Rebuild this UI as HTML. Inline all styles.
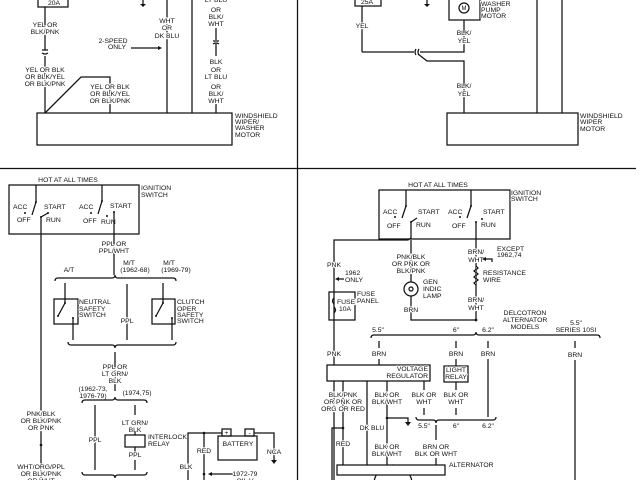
<!DOCTYPE html>
<html><head><meta charset="utf-8"><style>
html,body{margin:0;padding:0;background:#fff;}
svg{display:block}
text{font-family:"Liberation Sans",sans-serif;font-size:6.8px;fill:#111;stroke:#fff;stroke-width:2.2px;paint-order:stroke;stroke-linejoin:round}
.c{text-anchor:middle}
.r{text-anchor:end}
line,polyline,path,rect,circle{stroke:#111;stroke-width:1.25;fill:none}
.d{fill:#111;stroke:none}
</style></head><body>
<svg width="640" height="480" viewBox="0 0 640 480" xmlns="http://www.w3.org/2000/svg">
<line x1="0" y1="168.5" x2="636" y2="168.5" stroke-width="1.6"/>
<line x1="297.5" y1="0" x2="297.5" y2="480"/>

<!-- TOP LEFT -->
<rect x="38" y="-2" width="30" height="9"/>
<text x="48" y="5">20A</text>
<line x1="45" y1="7" x2="45" y2="50"/><line x1="45" y1="56" x2="45" y2="113"/>
<path d="M42,50 L48,50 M42,53 Q45,55 48,53"/>
<text class="c" x="45" y="27">YEL OR</text><text class="c" x="45" y="34">BLK/PNK</text>
<text class="c" x="45" y="72">YEL OR BLK</text><text class="c" x="45" y="79">OR BLK/YEL</text><text class="c" x="45" y="86">OR BLK/PNK</text>
<polyline points="45,113 81,77 110,77 110,113"/>
<text class="c" x="110" y="89">YEL OR BLK</text><text class="c" x="110" y="96">OR BLK/YEL</text><text class="c" x="110" y="103">OR BLK/PNK</text>
<line x1="143" y1="0" x2="143" y2="4"/><path class="d" d="M140,4 L146,4 L143,7 Z"/>
<line x1="167" y1="0" x2="167" y2="113"/>
<text class="c" x="167" y="23">WHT</text><text class="c" x="167" y="30">OR</text><text class="c" x="167" y="38">DK BLU</text>
<text class="c" x="113" y="43">2-SPEED</text><text class="c" x="117" y="49">ONLY</text>
<line x1="131" y1="48" x2="161" y2="48"/><path class="d" d="M162,48 L158,46 L158,50 Z"/>
<line x1="192" y1="0" x2="192" y2="113"/>
<line x1="216" y1="28" x2="216" y2="40"/><path d="M213,41 L219,41 M213,44 Q216,42 219,44"/><line x1="216" y1="44" x2="216" y2="56"/>
<line x1="216" y1="104" x2="216" y2="113"/>
<text class="c" x="216" y="2">LT BLU</text><text class="c" x="216" y="12">OR</text><text class="c" x="216" y="19">BLK/</text><text class="c" x="216" y="26">WHT</text>
<text class="c" x="216" y="64">BLK</text><text class="c" x="216" y="72">OR</text><text class="c" x="216" y="79">LT BLU</text>
<text class="c" x="216" y="89">OR</text><text class="c" x="216" y="96">BLK/</text><text class="c" x="216" y="103">WHT</text>
<rect x="37" y="113" width="195" height="32"/>
<text x="235" y="118">WINDSHIELD</text><text x="235" y="124">WIPER/</text><text x="235" y="130">WASHER</text><text x="235" y="137">MOTOR</text>

<!-- TOP RIGHT -->
<rect x="355" y="-2" width="26" height="8"/>
<text x="361" y="4">25A</text>
<line x1="362" y1="6" x2="362" y2="52"/>
<text class="c" x="362" y="28">YEL</text>
<polyline points="362,52 414,52"/>
<path d="M416,49 Q414,52 416,55 M419,49 Q417,52 419,55"/>
<polyline points="420,52 464,52 464,20"/>
<polyline points="418,54 427,61 464,61 464,113"/>
<text class="c" x="464" y="35">BLK/</text><text class="c" x="464" y="43">YEL</text>
<text class="c" x="464" y="88">BLK/</text><text class="c" x="464" y="96">YEL</text>
<line x1="427" y1="0" x2="427" y2="4"/><path class="d" d="M424,4 L430,4 L427,7 Z"/>
<rect x="449" y="-2" width="31" height="22"/>
<circle cx="464" cy="8" r="5"/><text class="c" x="464" y="10" style="font-size:6px">M</text>
<text x="481" y="6">WASHER</text><text x="481" y="12">PUMP</text><text x="481" y="18">MOTOR</text>
<line x1="537" y1="0" x2="537" y2="113"/><line x1="562" y1="0" x2="562" y2="113"/>
<rect x="447" y="113" width="131" height="32"/>
<text x="580" y="118">WINDSHIELD</text><text x="580" y="124">WIPER</text><text x="580" y="131">MOTOR</text>

<!-- BOTTOM LEFT -->
<text class="c" x="68" y="182">HOT AT ALL TIMES</text>
<rect x="9" y="185" width="130" height="49"/>
<text x="141" y="190">IGNITION</text><text x="141" y="197">SWITCH</text>
<line x1="36" y1="185" x2="36" y2="202"/><line x1="36" y1="202" x2="32" y2="215"/>
<circle class="d" cx="36" cy="202" r="1"/><circle class="d" cx="25" cy="213" r="1"/>
<text x="13" y="209">ACC</text><text x="17" y="222">OFF</text><text x="44" y="209">START</text><text x="46" y="222">RUN</text>
<line x1="41" y1="217" x2="48" y2="213"/><circle class="d" cx="41" cy="217" r="1"/><circle class="d" cx="48" cy="213" r="1"/>
<line x1="41" y1="217" x2="41" y2="480"/>
<line x1="102" y1="185" x2="102" y2="201"/><line x1="102" y1="201" x2="98" y2="214"/>
<circle class="d" cx="102" cy="201" r="1"/><circle class="d" cx="91" cy="213" r="1"/><circle class="d" cx="107" cy="216" r="1"/>
<text x="79" y="209">ACC</text><text x="83" y="223">OFF</text><text x="110" y="208">START</text><text x="101" y="224">RUN</text>
<circle class="d" cx="114" cy="212" r="1"/>
<line x1="114" y1="212" x2="114" y2="275"/>
<text class="c" x="114" y="246">PPL OR</text><text class="c" x="114" y="253">PPL/WHT</text>
<text class="c" x="69" y="272">A/T</text>
<text class="c" x="129" y="265">M/T</text><text class="c" x="135" y="272">(1962-68)</text>
<text class="c" x="169" y="265">M/T</text><text class="c" x="176" y="272">(1969-79)</text>
<path d="M55,281 Q55,278 58,278 L112,278 Q115,278 115,275 Q115,278 118,278 L173,278 Q176,278 176,281"/>
<rect x="54" y="299" width="24" height="25"/>
<polyline points="65,283 65,303 58,316"/><circle class="d" cx="65" cy="303" r="1"/><circle class="d" cx="58" cy="316" r="1"/>
<circle class="d" cx="73" cy="318" r="1"/><line x1="73" y1="318" x2="73" y2="340"/>
<text x="79" y="304">NEUTRAL</text><text x="79" y="311">SAFETY</text><text x="79" y="317">SWITCH</text>
<line x1="127" y1="284" x2="127" y2="340"/><text class="c" x="127" y="323">PPL</text>
<rect x="152" y="299" width="23" height="25"/>
<polyline points="163,283 163,303 156,316"/><circle class="d" cx="163" cy="303" r="1"/><circle class="d" cx="156" cy="316" r="1"/>
<circle class="d" cx="172" cy="318" r="1"/><line x1="172" y1="318" x2="172" y2="340"/>
<text x="177" y="304">CLUTCH</text><text x="177" y="311">OPER</text><text x="177" y="317">SAFETY</text><text x="177" y="323">SWITCH</text>
<path d="M68,342 Q68,345 71,345 L112,345 Q115,345 115,348 Q115,345 118,345 L173,345 Q176,345 176,342"/>
<line x1="115" y1="352" x2="115" y2="391"/>
<text class="c" x="115" y="369">PPL OR</text><text class="c" x="115" y="376">LT GRN/</text><text class="c" x="115" y="383">BLK</text>
<text class="c" x="93" y="391">(1962-73,</text><text class="c" x="93" y="398">1976-79)</text><text class="c" x="137" y="395">(1974,75)</text>
<path d="M82,403 Q82,400 85,400 L112,400 Q115,400 115,397 Q115,400 118,400 L144,400 Q147,400 147,403"/>
<line x1="95" y1="405" x2="95" y2="470"/><text class="c" x="95" y="442">PPL</text>
<line x1="135" y1="405" x2="135" y2="415"/>
<text class="c" x="135" y="425">LT GRN/</text><text class="c" x="135" y="432">BLK</text>
<line x1="135" y1="432" x2="135" y2="435"/>
<rect x="125" y="435" width="20" height="12"/>
<text x="148" y="439">INTERLOCK</text><text x="148" y="446">RELAY</text>
<line x1="135" y1="447" x2="135" y2="452"/><text class="c" x="135" y="457">PPL</text><line x1="135" y1="460" x2="135" y2="470"/>
<path d="M82,472 Q82,475 85,475 L112,475 Q115,475 115,478 Q115,475 118,475 L144,475 Q147,475 147,472"/>
<text class="c" x="41" y="416">PNK/BLK</text><text class="c" x="41" y="423">OR BLK/PNK</text><text class="c" x="41" y="430">OR PNK</text>
<circle class="d" cx="41" cy="445" r="1.3"/>
<text class="c" x="41" y="469">WHT/ORG/PPL</text><text class="c" x="41" y="476">OR BLK/PNK</text><text class="c" x="41" y="483">OR WHT</text>
<polyline points="188,480 188,433 222,433"/>
<line x1="204" y1="433" x2="204" y2="480"/><circle class="d" cx="204" cy="433" r="1.3"/><circle class="d" cx="204" cy="474" r="1.3"/>
<rect x="222" y="429" width="9" height="7"/><text class="c" x="226.5" y="435">+</text>
<rect x="245" y="429" width="9" height="7"/><text class="c" x="249.5" y="435">-</text>
<rect x="218" y="436" width="39" height="24"/><text class="c" x="238" y="446">BATTERY</text>
<polyline points="254,433 274,433 274,460"/>
<path class="d" d="M271,460 L277,460 L274,464 Z"/>
<text class="c" x="274" y="454">NCA</text>
<text class="c" x="204" y="453">RED</text><text class="c" x="186" y="469">BLK</text>
<line x1="210" y1="474" x2="234" y2="474"/><path class="d" d="M208,474 L212,472 L212,476 Z"/>
<text class="c" x="245" y="476">1972-79</text><text class="c" x="245" y="483">OIL V</text>

<!-- BOTTOM RIGHT -->
<text class="c" x="438" y="187">HOT AT ALL TIMES</text>
<rect x="379" y="190" width="131" height="49"/>
<text x="511" y="195">IGNITION</text><text x="511" y="201">SWITCH</text>
<line x1="406" y1="190" x2="406" y2="206"/><line x1="406" y1="206" x2="402" y2="218"/>
<circle class="d" cx="406" cy="206" r="1"/><circle class="d" cx="395" cy="217" r="1"/>
<text x="383" y="214">ACC</text><text x="387" y="228">OFF</text><text x="418" y="214">START</text><text x="416" y="227">RUN</text>
<line x1="411" y1="222" x2="417" y2="218"/><circle class="d" cx="411" cy="222" r="1"/>
<line x1="471" y1="190" x2="471" y2="206"/><line x1="471" y1="206" x2="467" y2="218"/>
<circle class="d" cx="471" cy="206" r="1"/><circle class="d" cx="460" cy="217" r="1"/><circle class="d" cx="482" cy="219" r="1"/>
<text x="448" y="214">ACC</text><text x="452" y="228">OFF</text><text x="483" y="214">START</text><text x="481" y="227">RUN</text>
<circle class="d" cx="476" cy="222" r="1"/>
<polyline points="411,222 411,238 408,240 334,240 334,480"/>
<line x1="411" y1="240" x2="411" y2="282"/>
<text class="c" x="411" y="259">PNK/BLK</text><text class="c" x="411" y="266">OR PNK OR</text><text class="c" x="411" y="273">BLK/PNK</text>
<circle cx="411" cy="289" r="7" style="fill:#fff"/><circle cx="411" cy="289" r="2"/>
<text x="423" y="284">GEN</text><text x="423" y="291">INDIC</text><text x="423" y="298">LAMP</text>
<polyline points="411,296 411,320 476,320"/>
<text class="c" x="411" y="312">BRN</text>
<line x1="476" y1="222" x2="476" y2="320"/><circle class="d" cx="476" cy="320" r="1.4"/>
<text class="c" x="476" y="254">BRN/</text><text class="c" x="476" y="262">WHT</text>
<text x="497" y="251">EXCEPT</text><text x="497" y="257">1962,74</text>
<polyline points="486,259 492,259 492,262"/><path class="d" d="M482,259 L486,257 L486,261 Z"/>
<path d="M476,266 L478,268 L474,271 L478,274 L474,277 L478,280 L474,283 L476,285" style="fill:#fff"/>
<text x="483" y="275">RESISTANCE</text><text x="483" y="282">WIRE</text>
<text class="c" x="476" y="302">BRN/</text><text class="c" x="476" y="310">WHT</text>
<text class="c" x="525" y="315">DELCOTRON</text><text class="c" x="525" y="322">ALTERNATOR</text><text class="c" x="525" y="329">MODELS</text>
<text class="c" x="576" y="325">5.5"</text><text class="c" x="576" y="332">SERIES 10SI</text>
<text class="c" x="378" y="332">5.5"</text><text class="c" x="456" y="332">6"</text><text class="c" x="488" y="332">6.2"</text>
<path d="M371,338 Q371,335 374,335 L473,335 Q476,335 476,332 Q476,335 479,335 L597,335 Q600,335 600,338"/>
<text class="c" x="334" y="267">PNK</text>
<text x="345" y="275">1962</text><text x="345" y="282">ONLY</text>
<line x1="338" y1="279" x2="344" y2="279"/><path class="d" d="M335,279 L339,277 L339,281 Z"/>
<rect x="329" y="292" width="26" height="28"/>
<path d="M334,298 Q331,301 334,304 M334,307 Q337,310 334,313" />
<text x="337" y="304">FUSE</text><text x="339" y="311">10A</text>
<text x="357" y="296">FUSE</text><text x="357" y="303">PANEL</text>
<text class="c" x="334" y="356">PNK</text>
<line x1="379" y1="341" x2="379" y2="348"/><text class="c" x="379" y="356">BRN</text><line x1="379" y1="359" x2="379" y2="365"/>
<line x1="456" y1="341" x2="456" y2="348"/><text class="c" x="456" y="356">BRN</text><line x1="456" y1="359" x2="456" y2="366"/>
<line x1="488" y1="341" x2="488" y2="348"/><text class="c" x="488" y="356">BRN</text><line x1="488" y1="359" x2="488" y2="417"/>
<line x1="575" y1="341" x2="575" y2="348"/><text class="c" x="575" y="357">BRN</text><line x1="575" y1="360" x2="575" y2="480"/>
<rect x="327" y="365" width="103" height="16" style="fill:#fff"/>
<text class="r" x="428" y="371">VOLTAGE</text><text class="r" x="428" y="378">REGULATOR</text>
<rect x="444" y="366" width="24" height="16"/>
<text class="c" x="456" y="372">LIGHT</text><text class="c" x="456" y="379">RELAY</text>
<line x1="343" y1="381" x2="343" y2="465"/><circle class="d" cx="343" cy="428" r="1.3"/>
<polyline points="343,428 332,428 332,480"/>
<text class="c" x="343" y="397">BLK/PNK</text><text class="c" x="343" y="404">OR PNK OR</text><text class="c" x="343" y="411">ORG OR RED</text>
<text class="c" x="343" y="446">RED</text>
<line x1="367" y1="381" x2="367" y2="465"/><text class="c" x="372" y="430">DK BLU</text>
<line x1="387" y1="381" x2="387" y2="465"/><circle class="d" cx="387" cy="418" r="1.3"/>
<polyline points="387,418 408,418 408,422"/><path class="d" d="M405,422 L411,422 L408,426 Z"/>
<text class="c" x="387" y="397">BLK OR</text><text class="c" x="387" y="404">BLK/WHT</text>
<text class="c" x="387" y="449">BLK OR</text><text class="c" x="387" y="456">BLK/WHT</text>
<line x1="424" y1="381" x2="424" y2="390"/><text class="c" x="424" y="397">BLK OR</text><text class="c" x="424" y="404">WHT</text><line x1="424" y1="408" x2="424" y2="415"/>
<line x1="456" y1="382" x2="456" y2="390"/><text class="c" x="456" y="397">BLK OR</text><text class="c" x="456" y="404">WHT</text><line x1="456" y1="408" x2="456" y2="415"/>
<path d="M416,417 Q416,420 419,420 L433,420 Q436,420 436,423 Q436,420 439,420 L493,420 Q496,420 496,417"/>
<text class="c" x="424" y="428">5.5"</text><text class="c" x="456" y="428">6"</text><text class="c" x="488" y="428">6.2"</text>
<line x1="436" y1="425" x2="436" y2="440"/>
<text class="c" x="436" y="449">BRN OR</text><text class="c" x="436" y="456">BLK OR WHT</text>
<line x1="436" y1="458" x2="436" y2="465"/>
<circle cx="393" cy="484" r="19"/>
<rect x="337" y="465" width="108" height="10" style="fill:#fff"/>
<text x="449" y="467">ALTERNATOR</text>
</svg>
</body></html>
